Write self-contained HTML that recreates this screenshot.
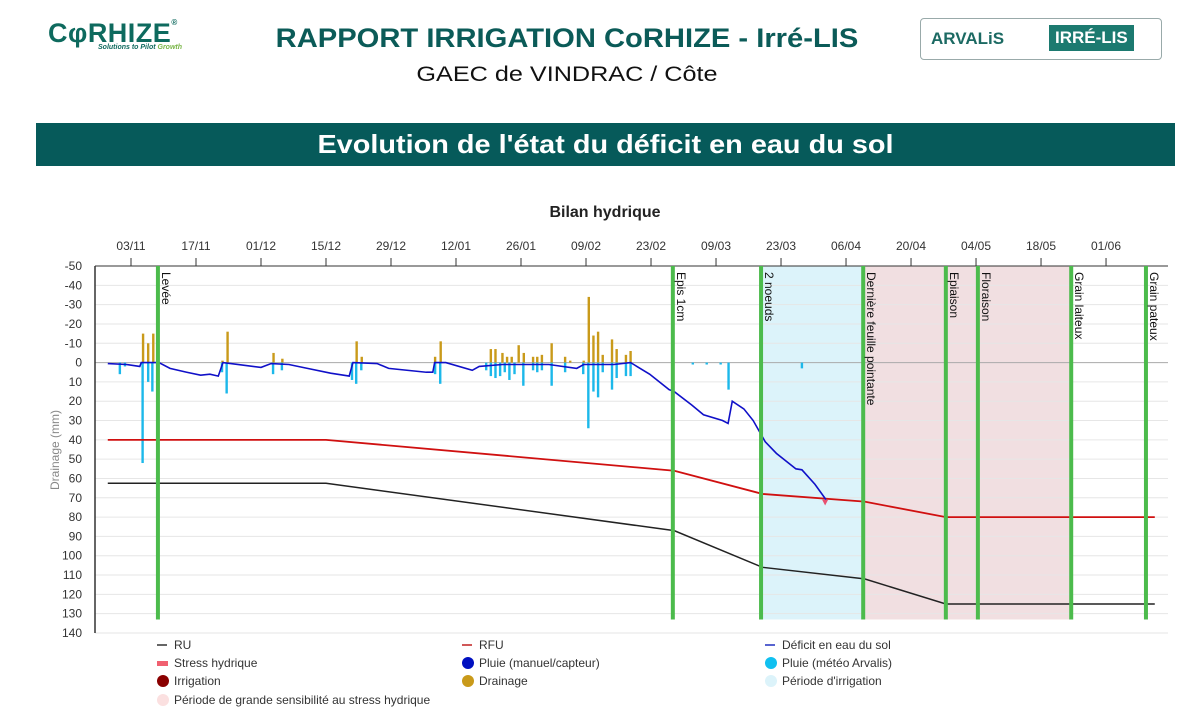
<!DOCTYPE html>
<html><head><meta charset="utf-8"><style>
body{margin:0;width:1200px;height:710px;background:#fff;font-family:"Liberation Sans",sans-serif;overflow:hidden;position:relative}
.abs{position:absolute}
</style></head><body>
<div class="abs" style="left:48px;top:18px;width:170px;height:40px">
 <div style="font:bold 27px 'Liberation Sans',sans-serif;color:#0e6a5e;letter-spacing:0.5px">CφRHIZE<span style="font-size:8px;vertical-align:top">®</span></div>
 <div style="font:italic bold 7px 'Liberation Sans',sans-serif;color:#0e6a5e;margin-left:50px;margin-top:-5px">Solutions to Pilot <span style="color:#7ab648">Growth</span></div>
</div>
<div class="abs" style="left:250px;top:23px;width:634px;text-align:center;font-weight:bold;font-size:27px;color:#0b5b58;transform:scaleX(1.08)">RAPPORT IRRIGATION CoRHIZE - Irré-LIS</div>
<div class="abs" style="left:300px;top:63px;width:534px;text-align:center;font-size:21px;color:#111;transform:scaleX(1.2)">GAEC de VINDRAC / Côte</div>
<div class="abs" style="left:920px;top:18px;width:240px;height:40px;border:1px solid #9aa;border-radius:4px">
 <span style="position:absolute;left:10px;top:10px;font:bold 17px 'Liberation Sans',sans-serif;color:#1c6a63">ARVALiS</span>
 <span style="position:absolute;left:128px;top:6px;padding:3px 6px;background:#1c7a70;color:#fff;font:bold 17px 'Liberation Sans',sans-serif">IRRÉ-LIS</span>
</div>
<div class="abs" style="left:36px;top:123px;width:1139px;height:43px;background:#065a5a;"></div>
<div class="abs" style="left:36px;top:123px;width:1139px;height:43px;color:#fff;font-weight:bold;font-size:26px;text-align:center;line-height:43px;transform:scaleX(1.11)">Evolution de l'état du déficit en eau du sol</div>
<svg class="abs" style="left:0;top:0" width="1200" height="710" id="chart"></svg>
<script>
const tickLabels=["03/11","17/11","01/12","15/12","29/12","12/01","26/01","09/02","23/02","09/03","23/03","06/04","20/04","04/05","18/05","01/06"];
const yTicks=[-50,-40,-30,-20,-10,0,10,20,30,40,50,60,70,80,90,100,110,120,130,140];
const stageNames=["Levée","Epis 1cm","2 noeuds","Dernière feuille pointante","Epiaison","Floraison","Grain laiteux","Grain pateux"];
const stageDays=[5.8,116.7,135.7,157.7,175.5,182.4,202.5,218.6];
const ruDays=[-5,42,117,136,158,175.5,220.5];
const ruVals=[62.5,62.5,87,106,112,125,125];
const rfuDays=[-5,42,117,136,158,175.5,220.5];
const rfuVals=[40,40,56,68,72,80,80];
const defDays=[-5,-1,1.9,2.2,6,8.4,12,15,17,18.8,19.8,21.5,28,30.2,34,38,43,47,47.8,53,55.5,63.6,65,65.4,67.8,73.5,75,80,85,90,96,97.5,100,104,107.6,111.7,115.9,117,120.8,123.3,127.4,128.6,129.5,132,134,136.6,139,143.2,144.5,147.3,149.7];
const defVals=[0.5,1,2,0,0,3,5,6.5,6,7,0,0.5,2.5,0.5,1,3,5.5,7,0,0.5,3,5,5,0,0,4,2,1,1,1,3,1,1,1,0,6,14,15,22,27,30,31.5,20,24,30,41,47,55,55.5,63,71];
const drainDays=[2.6,3.7,4.8,19.7,20.8,30.7,32.6,48.6,49.7,65.5,66.7,77.5,78.5,80,81,82,83.5,84.6,86.6,87.5,88.5,90.6,93.5,94.6,97.5,98.6,99.6,100.6,101.6,103.6,104.6,106.6,107.6];
const drainVals=[15,10,15,1,16,5,2,11,3,3,11,7,7,5,3,3,9,5,3,3,4,10,3,1,1,34,14,16,4,12,7,4,6];
const rainDays=[-2.4,-1.3,2.5,3.7,4.6,19.6,20.6,30.6,32.5,47.6,48.5,49.6,65.5,66.6,76.5,77.5,78.5,79.5,80.5,81.5,82.6,84.5,86.6,87.5,88.5,90.6,93.5,97.4,98.5,99.6,100.6,101.6,103.6,104.6,106.6,107.6,128.7,144.5,121,124,127];
const rainVals=[6,2,52,10,15,5,16,6,4,9,11,4,6,11,4,7,8,7,5,9,6,12,4,5,4,12,5,6,34,15,18,5,14,8,7,7,14,3,1,1,1];
const ns="http://www.w3.org/2000/svg";
const svg=document.getElementById('chart');
const X0=95,X1=1168,Y0=266,Y1=633;
const xs=d=>131+d*4.643;
const ys=v=>Y0+(v+50)*(Y1-Y0)/190;
function mk(t,a,parent){const e=document.createElementNS(ns,t);for(const k in a)e.setAttribute(k,a[k]);(parent||svg).appendChild(e);return e;}
let e;
e=mk('text',{x:605,y:217,'text-anchor':'middle','font-size':16,'font-weight':'bold',fill:'#222'});e.textContent='Bilan hydrique';


e=mk('rect',{x:xs(stageDays[2]),y:Y0,width:xs(stageDays[3])-xs(stageDays[2]),height:ys(133)-Y0,fill:'#dcf3fa'});


e=mk('rect',{x:xs(stageDays[3]),y:Y0,width:xs(stageDays[6])-xs(stageDays[3]),height:ys(133)-Y0,fill:'#f1dfe1'});


yTicks.forEach(v=>{
 e=mk('line',{x1:X0,x2:X1,y1:ys(v),y2:ys(v),stroke:v===0?'#aaa':'#e6e6e6','stroke-width':1});
 
 
 e=mk('text',{x:82,y:ys(v)+4,'text-anchor':'end','font-size':12,fill:'#333'});e.textContent=v;
 
 
});
mk('line',{x1:X0,x2:X0,y1:Y0,y2:Y1,stroke:'#333','stroke-width':1.5});
mk('line',{x1:X0,x2:X1,y1:Y0,y2:Y0,stroke:'#333','stroke-width':1});
e=mk('text',{transform:'translate(59,450) rotate(-90)','text-anchor':'middle','font-size':12,fill:'#888'});e.textContent='Drainage (mm)';


tickLabels.forEach((t,i)=>{const x=xs(i*14);
 mk('line',{x1:x,x2:x,y1:Y0-8,y2:Y0,stroke:'#333'});
 e=mk('text',{x:x,y:250,'text-anchor':'middle','font-size':12,fill:'#333'});e.textContent=t;
 
 
});
drainDays.forEach((d,i)=>{e=mk('rect',{x:xs(d)-1.2,y:ys(-drainVals[i]),width:2.4,height:ys(0)-ys(-drainVals[i]),fill:'#c99a1a'});
 
 });
rainDays.forEach((d,i)=>{e=mk('rect',{x:xs(d)-1.2,y:ys(0),width:2.4,height:ys(rainVals[i])-ys(0),fill:'#1cb8ea'});
 
 });
function line(days,vals,col,w,name){e=mk('polyline',{points:days.map((d,i)=>xs(d)+','+ys(vals[i])).join(' '),fill:'none',stroke:col,'stroke-width':w});
 
 }
line(ruDays,ruVals,'#222',1.5,'ru-line');
line(rfuDays,rfuVals,'#d01010',1.8,'rfu-line');
line(defDays,defVals,'#1010c8',1.6,'deficit-line');
e=mk('path',{d:`M${xs(149.5)-3},${ys(71)} L${xs(149.5)+3},${ys(71)} L${xs(149.5)},${ys(74)} Z`,fill:'#e85070'});


stageDays.forEach((d,i)=>{const x=xs(d);
 e=mk('line',{x1:x,x2:x,y1:Y0,y2:ys(133),stroke:'#4cbb4c','stroke-width':4});
 
 
 e=mk('text',{transform:`translate(${x+4},272) rotate(90)`,'font-size':12,fill:'#111'});e.textContent=stageNames[i];
 
 
});
const leg=[[157,645,'line','#333','RU'],[462,645,'line','#c02020','RFU'],[765,645,'line','#2030c0','Déficit en eau du sol'],
[157,663,'rect','#f06070','Stress hydrique'],[462,663,'dot','#0010c0','Pluie (manuel/capteur)'],[765,663,'dot','#10c0f0','Pluie (météo Arvalis)'],
[157,681,'dot','#8a0000','Irrigation'],[462,681,'dot','#c99a1a','Drainage'],[765,681,'dot','#dcf3fa','Période d\'irrigation'],
[157,700,'dot','#fbe0e0','Période de grande sensibilité au stress hydrique']];
leg.forEach(l=>{const[x,y,t,c,txt]=l;
 if(t==='line')mk('line',{x1:x,x2:x+10,y1:y,y2:y,stroke:c,'stroke-width':1.5});
 else if(t==='rect')mk('rect',{x:x,y:y-2,width:11,height:5,fill:c});
 else mk('circle',{cx:x+6,cy:y,r:6,fill:c});
 e=mk('text',{x:x+17,y:y+4,'font-size':12,fill:'#333'});e.textContent=txt;
 
 
});
</script>
</body></html>
